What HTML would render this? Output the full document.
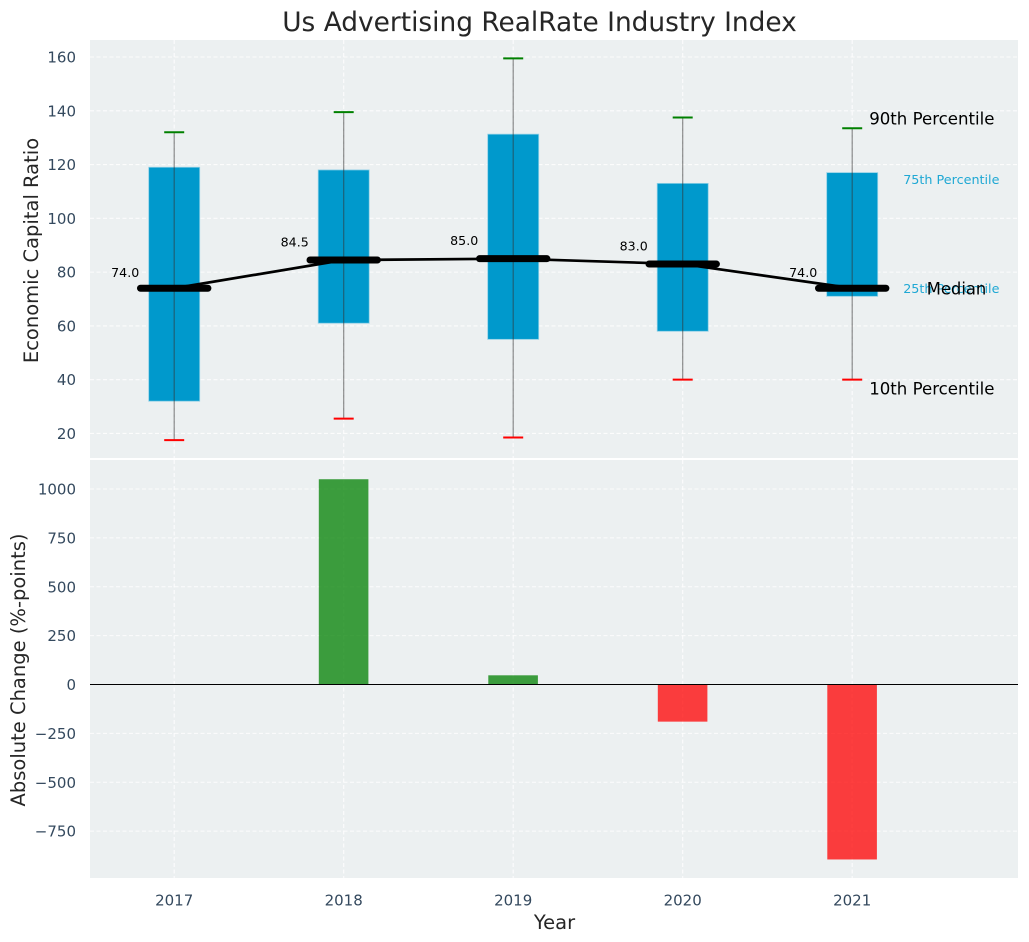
<!DOCTYPE html>
<html>
<head>
<meta charset="utf-8">
<title>Us Advertising RealRate Industry Index</title>
<style>
html,body{margin:0;padding:0;background:#fff;width:1029px;height:942px;overflow:hidden}
svg{display:block;font-family:"DejaVu Sans","Liberation Sans",sans-serif}
</style>
</head>
<body>
<svg id="chart" width="1029" height="942" viewBox="0 0 1029 942" xmlns="http://www.w3.org/2000/svg">
  <rect x="90" y="40" width="928" height="418" fill="#ecf0f1"/>
  <rect x="90" y="460" width="928" height="418" fill="#ecf0f1"/>
  <text x="539.5" y="31" text-anchor="middle" font-size="26.4" fill="#262626">Us Advertising RealRate Industry Index</text>
  <text transform="translate(38,250.5) rotate(-90)" text-anchor="middle" font-size="19.5" fill="#262626">Economic Capital Ratio</text>
  <text transform="translate(25,670) rotate(-90)" text-anchor="middle" font-size="19.5" fill="#262626">Absolute Change (%-points)</text>
  <text x="554.5" y="929" text-anchor="middle" font-size="19.5" fill="#262626">Year</text>
  <g id="layer"></g>
</svg>
<script>
const years = [2017, 2018, 2019, 2020, 2021];
const p90 = [132, 139.5, 159.5, 137.5, 133.5];
const p75 = [119, 118, 131.3, 113, 117];
const medians = [74, 84.5, 85, 83, 74];
const p25 = [32, 61, 55, 58, 71];
const p10 = [17.5, 25.5, 18.5, 40, 40];
const changes = [0, 1050, 47, -190, -895];
const topTicks = [20, 40, 60, 80, 100, 120, 140, 160];
const bottomTicks = [-750, -500, -250, 0, 250, 500, 750, 1000];

const NS = 'http://www.w3.org/2000/svg';
const layer = document.getElementById('layer');

function xScale(year) { return 174.2 + (year - 2017) * 169.5; }
function yTop(v) { return 57 + (160 - v) * 2.689; }
function yBottom(v) { return 684.5 - v * 0.1955; }

function make(tag, attrs, text) {
  const el = document.createElementNS(NS, tag);
  for (const k in attrs) el.setAttribute(k, attrs[k]);
  if (text !== undefined) el.textContent = text;
  layer.appendChild(el);
  return el;
}
function tickText(v) { return String(v).replace('-', '\u2212'); }

// grid lines and tick labels
years.forEach(function (yr) {
  const x = xScale(yr);
  let g = make('line', {x1: x, x2: x, y1: 40, y2: 458, stroke: '#fff', 'stroke-width': 1.1, 'stroke-dasharray': '4 2.5', opacity: 0.85});
  
  
  g = make('line', {x1: x, x2: x, y1: 460, y2: 878, stroke: '#fff', 'stroke-width': 1.1, 'stroke-dasharray': '4 2.5', opacity: 0.85});
  
  
  const t = make('text', {x: x, y: 905.5, 'text-anchor': 'middle', 'font-size': 15, fill: '#34495e'}, String(yr));
  
  
});
topTicks.forEach(function (v) {
  const y = yTop(v);
  const g = make('line', {x1: 90, x2: 1018, y1: y, y2: y, stroke: '#fff', 'stroke-width': 1.1, 'stroke-dasharray': '4 2.5', opacity: 0.85});
  
  
  const t = make('text', {x: 76, y: y + 5.5, 'text-anchor': 'end', 'font-size': 15, fill: '#34495e'}, tickText(v));
  
  
});
bottomTicks.forEach(function (v) {
  const y = yBottom(v);
  const g = make('line', {x1: 90, x2: 1018, y1: y, y2: y, stroke: '#fff', 'stroke-width': 1.1, 'stroke-dasharray': '4 2.5', opacity: 0.85});
  
  
  const t = make('text', {x: 76, y: y + 5.5, 'text-anchor': 'end', 'font-size': 15, fill: '#34495e'}, tickText(v));
  
  
});

// boxes
years.forEach(function (yr, i) {
  const x = xScale(yr);
  const b = make('rect', {x: x - 25.5, y: yTop(p75[i]), width: 51, height: yTop(p25[i]) - yTop(p75[i]), fill: '#0099cc', stroke: '#8fd0e6', 'stroke-width': 0.8});
  
  
  const w = make('line', {x1: x, x2: x, y1: yTop(p90[i]), y2: yTop(p10[i]), stroke: '#333', 'stroke-width': 1.2, opacity: 0.55});
  
  
  const hi = make('line', {x1: x - 10, x2: x + 10, y1: yTop(p90[i]), y2: yTop(p90[i]), stroke: '#008000', 'stroke-width': 2});
  
  
  const lo = make('line', {x1: x - 10, x2: x + 10, y1: yTop(p10[i]), y2: yTop(p10[i]), stroke: '#ff0000', 'stroke-width': 2});
  
  
});

// median trend line
const trend = make('polyline', {points: years.map(function (yr, i) { return xScale(yr) + ',' + yTop(medians[i]); }).join(' '), fill: 'none', stroke: '#000', 'stroke-width': 2.7});



years.forEach(function (yr, i) {
  const x = xScale(yr);
  const y = yTop(medians[i]);
  const m = make('line', {x1: x - 33.7, x2: x + 33.7, y1: y, y2: y, stroke: '#000', 'stroke-width': 7, 'stroke-linecap': 'round'});
  
  
  const t = make('text', {x: x - 49, y: yTop(medians[i] * 1.08) + 4.5, 'text-anchor': 'middle', 'font-size': 12.6, fill: '#000'}, medians[i].toFixed(1));
  
  
});

// right-hand annotations on the last year
const last = years.length - 1;
const lastX = xScale(years[last]);
let note = make('text', {x: lastX + 17, y: yTop(p90[last]) - 4, 'font-size': 16.6, fill: '#000'}, '90th Percentile');


note = make('text', {x: lastX + 51, y: yTop(p75[last]) + 11.5, 'font-size': 12.75, fill: '#1fa8d4'}, '75th Percentile');


note = make('text', {x: lastX + 51, y: yTop(p25[last]) - 3.5, 'font-size': 12.75, fill: '#1fa8d4'}, '25th Percentile');


note = make('text', {x: lastX + 74.5, y: yTop(medians[last]) + 6, 'font-size': 16.4, fill: '#000'}, 'Median');


note = make('text', {x: lastX + 17, y: yTop(p10[last]) + 15, 'font-size': 16.6, fill: '#000'}, '10th Percentile');



// bottom change bars
years.forEach(function (yr, i) {
  const v = changes[i];
  const y0 = yBottom(0);
  const y1 = yBottom(v);
  const bar = make('rect', {x: xScale(yr) - 24.9, y: Math.min(y0, y1), width: 49.6, height: Math.abs(y1 - y0), fill: v >= 0 ? '#008000' : '#ff0000', 'fill-opacity': 0.75});
  
  
});
const zero = make('line', {x1: 90, x2: 1018, y1: yBottom(0), y2: yBottom(0), stroke: '#000', 'stroke-width': 1.1});


</script>
</body>
</html>
